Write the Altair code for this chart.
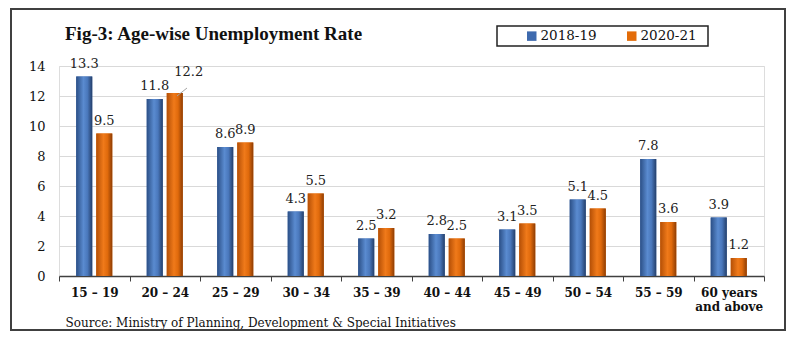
import altair as alt
import pandas as pd

categories = ["15 – 19", "20 – 24", "25 – 29", "30 – 34", "35 – 39",
              "40 – 44", "45 – 49", "50 – 54", "55 – 59", "60 years and above"]
series_names = ["2018-19", "2020-21"]
values_2018 = [13.3, 11.8, 8.6, 4.3, 2.5, 2.8, 3.1, 5.1, 7.8, 3.9]
values_2020 = [9.5, 12.2, 8.9, 5.5, 3.2, 2.5, 3.5, 4.5, 3.6, 1.2]
title_text = "Fig-3: Age-wise Unemployment Rate"
source_text = "Source:  Ministry of Planning, Development & Special Initiatives"

rows = []
for c, a, b in zip(categories, values_2018, values_2020):
    rows.append({"age": c, "series": series_names[0], "value": a})
    rows.append({"age": c, "series": series_names[1], "value": b})
df = pd.DataFrame(rows)

SERIF = "DejaVu Serif"
blue_grad = alt.LinearGradient(gradient="linear", x1=0, x2=1, y1=0, y2=0, stops=[
    alt.GradientStop(color="#2B4F86", offset=0),
    alt.GradientStop(color="#5A8BD0", offset=0.45),
    alt.GradientStop(color="#4A78BC", offset=0.7),
    alt.GradientStop(color="#243F6A", offset=1)])
orange_grad = alt.LinearGradient(gradient="linear", x1=0, x2=1, y1=0, y2=0, stops=[
    alt.GradientStop(color="#B44F06", offset=0),
    alt.GradientStop(color="#F07A1A", offset=0.45),
    alt.GradientStop(color="#E06A0C", offset=0.7),
    alt.GradientStop(color="#8E3D04", offset=1)])

x_enc = alt.X("age:N", sort=categories, scale=alt.Scale(paddingInner=0, paddingOuter=0),
              axis=alt.Axis(title=source_text,
                            titleFont=SERIF, titleFontSize=12, titleFontWeight="normal",
                            titleColor="#111111", titleAnchor="start", titleAlign="left",
                            titleX=6, titleY=46, titleBaseline="middle",
                            labelFont=SERIF, labelFontSize=12, labelFontWeight="bold",
                            labelColor="#111111", labelAngle=0, labelPadding=6,
                            labelExpr="datum.label == '60 years and above' ? ['60 years', 'and above'] : datum.label",
                            tickBand="extent", tickSize=5, tickColor="#404040",
                            domainColor="#404040", domainWidth=1.5, grid=False))
xoff = alt.XOffset("series:N", sort=series_names,
                   scale=alt.Scale(paddingInner=0.2, paddingOuter=0.86))
y_enc = alt.Y("value:Q", scale=alt.Scale(domain=[0, 14], nice=False),
              axis=alt.Axis(title=None, values=[0, 2, 4, 6, 8, 10, 12, 14],
                            labelFont=SERIF, labelFontSize=13, labelColor="#111111",
                            labelPadding=14, ticks=False, domain=False,
                            gridColor="#D9D9D9", gridWidth=1.2))

base = alt.Chart(df).encode(x=x_enc, xOffset=xoff, y=y_enc)

bars = base.mark_bar().encode(
    color=alt.Color("series:N", sort=series_names,
                    scale=alt.Scale(domain=series_names, range=["#3E6AAE", "#E36C09"]),
                    legend=alt.Legend(title=None, orient="none", direction="horizontal",
                                      legendX=466, legendY=-37,
                                      padding=0, columnPadding=28, symbolType="square",
                                      symbolSize=90, symbolStrokeWidth=0, labelFont=SERIF,
                                      labelFontSize=13.5, labelColor="#111111", labelOffset=2))
)
grad_bars = base.mark_bar().encode(
    fill=alt.condition(alt.datum.series == "2018-19", alt.value(blue_grad), alt.value(orange_grad))
)

labels = base.transform_filter(
    ~((alt.datum.age == "20 – 24") & (alt.datum.series == "2020-21"))
).mark_text(font=SERIF, fontSize=13, color="#222222", baseline="bottom", dy=-6).encode(
    text=alt.Text("value:Q", format=".1f"))

special = base.transform_filter(
    (alt.datum.age == "20 – 24") & (alt.datum.series == "2020-21")
).mark_text(font=SERIF, fontSize=13, color="#222222", baseline="bottom", dx=14, dy=-14).encode(
    text=alt.Text("value:Q", format=".1f"))

leader = alt.Chart(pd.DataFrame({"v": [0]})).mark_rule(color="#A6A6A6", strokeWidth=1).encode(
    x=alt.value(118), x2=alt.value(128), y=alt.value(30), y2=alt.value(22))

frame = alt.Chart(pd.DataFrame({"v": [0]})).mark_rect(
    fill=None, stroke="#404040", strokeWidth=2, clip=False).encode(
    x=alt.value(-48), x2=alt.value(726), y=alt.value(-57), y2=alt.value(264))

legend_box = alt.Chart(pd.DataFrame({"v": [0]})).mark_rect(
    fill="white", stroke="#222222", strokeWidth=1.5, clip=False).encode(
    x=alt.value(438), x2=alt.value(649), y=alt.value(-40), y2=alt.value(-20))

title = alt.Chart(pd.DataFrame({"t": [title_text]})).mark_text(
    font="Liberation Serif", fontSize=19, fontWeight="bold", color="#111111",
    align="left", baseline="middle").encode(
    x=alt.value(6), y=alt.value(-32), text="t:N")

chart = alt.layer(frame, legend_box, bars, grad_bars, labels, special, leader, title).properties(
    width=705, height=210,
    autosize=alt.AutoSizeParams(type="none"),
    padding={"left": 59, "top": 66, "right": 36, "bottom": 62},
).configure_view(stroke=None).configure(background="white")

chart.save("out.html", embed_options={"renderer": "svg", "actions": False})
